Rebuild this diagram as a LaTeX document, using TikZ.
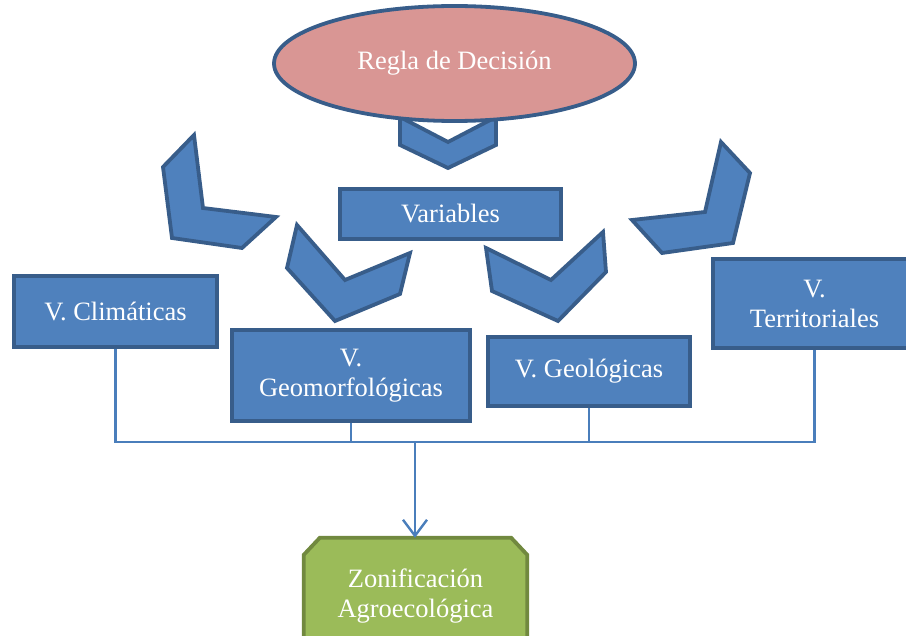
\documentclass[tikz,border=0pt]{standalone}
\usepackage{fontspec}
\setmainfont{Liberation Serif}
\usepackage{tikz}
\usetikzlibrary{arrows.meta,shapes.geometric,backgrounds}
\definecolor{boxc}{RGB}{79,129,189}
\definecolor{edgec}{RGB}{56,93,138}
\definecolor{rulec}{RGB}{217,150,148}
\definecolor{zonc}{RGB}{155,187,89}
\definecolor{zonedge}{RGB}{113,137,63}
\definecolor{connc}{RGB}{74,126,187}
\tikzset{
  lbl/.style={font=\fontsize{26.5}{30}\selectfont,text=white,align=center,inner sep=0pt},
  vbox/.style={lbl,rectangle,draw=edgec,fill=boxc,line width=3.8pt},
  rulebox/.style={lbl,ellipse,draw=edgec,fill=rulec,line width=3.8pt},
  zonbox/.style={lbl,rectangle},
  % outline of the result box, top corners cut
  zonedge/.style={draw=zonedge,fill=zonc,line width=3.8pt,line join=miter},
  % decorative chevrons pointing from one level to the next
  chev/.style={draw=edgec,fill=boxc,line width=3.8pt,line join=miter},
  conn/.style={connc,line width=2.4pt},
  connarrow/.style={conn,-{Straight Barb[length=16pt,width=24pt]}},
}
\begin{document}
\begin{tikzpicture}[x=1pt,y=-1pt]
  \useasboundingbox (0,0) rectangle (906,636);
  \clip (0,0) rectangle (906,636);
  % ---- chevrons ----
  \draw[chev] (400,117) -- (400,145) -- (448,168) -- (496,145) -- (496,117) -- (448,142) -- cycle;
  \draw[chev] (194,135) -- (163,167) -- (172,238) -- (242,248) -- (276,217) -- (203,208) -- cycle;
  \draw[chev] (297,225) -- (287,268) -- (335,321) -- (400,294) -- (410,253) -- (345,280) -- cycle;
  \draw[chev] (486,248) -- (492,291) -- (558,321) -- (606,272) -- (603,232) -- (551,280) -- cycle;
  \draw[chev] (721,142) -- (750,173) -- (733,243) -- (662,253) -- (632,220) -- (705,212) -- cycle;
  % ---- top: the decision rule ----
  \node[rulebox,minimum width=361pt,minimum height=115pt] (rule) at (454.5,63.5) {Regla de Decisión};
  \node[vbox,minimum width=221pt,minimum height=50pt] (var) at (450.5,214) {Variables};
  % ---- the four groups of variables ----
  \node[vbox,minimum width=203pt,minimum height=71pt] (clim) at (115.5,311.5) {V. Climáticas};
  \node[vbox,minimum width=238pt,minimum height=91pt] (geom) at (351,375.5) {V.\\Geomorfológicas};
  \node[vbox,minimum width=202pt,minimum height=69pt] (geol) at (589,371.5) {V. Geológicas};
  \node[vbox,minimum width=203pt,minimum height=89pt] (terr) at (814.5,303.5) {V.\\Territoriales};
  % ---- result ----
  \node[zonbox,minimum width=223pt,minimum height=116pt] (zon) at (415.5,596) {Zonificación\\Agroecológica};
  \begin{scope}[on background layer]
    \draw[zonedge] (zon.south west) -- ([yshift=-17pt]zon.north west) -- ([xshift=16pt]zon.north west)
      -- ([xshift=-16pt]zon.north east) -- ([yshift=-17pt]zon.north east) -- (zon.south east) -- cycle;
  \end{scope}
  % ---- connectors gathered on one bus ----
  \coordinate (jn) at (415,442);
  \draw[conn] (clim.south) |- (jn) -| (terr.south);
  \draw[conn] (geom.south) -- (geom.south |- jn);
  \draw[conn] (geol.south) -- (geol.south |- jn);
  \draw[connarrow] (jn) -- (zon.north -| jn);
\end{tikzpicture}
\end{document}
